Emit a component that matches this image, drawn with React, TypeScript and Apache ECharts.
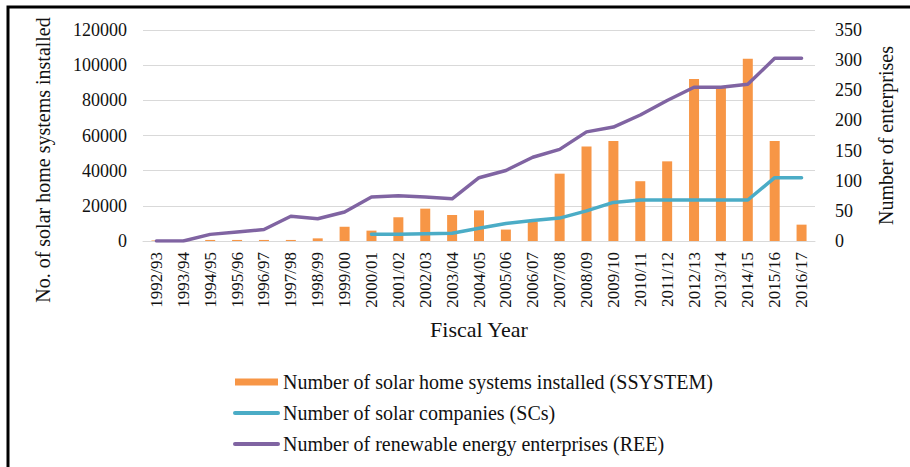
import React, { useEffect, useRef } from "react";
import * as echarts from "echarts";

const categories = [
  "1992/93", "1993/94", "1994/95", "1995/96", "1996/97", "1997/98", "1998/99",
  "1999/00", "2000/01", "2001/02", "2002/03", "2003/04", "2004/05", "2005/06",
  "2006/07", "2007/08", "2008/09", "2009/10", "2010/11", "2011/12", "2012/13",
  "2013/14", "2014/15", "2015/16", "2016/17",
];

const ssystem = [
  300, 0, 600, 600, 600, 600, 1500, 8100, 5900, 13500, 18400, 14800, 17400,
  6500, 11000, 38300, 53700, 56900, 34000, 45300, 92200, 87500, 103700, 56900, 9300,
];

const scs = [
  null, null, null, null, null, null, null, null, 11, 11, 12, 13, 21, 29, 34,
  38, 50, 64, 68, 68, 68, 68, 68, 105, 105,
];

const ree = [
  0, 0, 11, 15, 19, 41, 37, 48, 73, 75, 73, 70, 105, 117, 139, 152, 181, 189,
  209, 233, 255, 255, 260, 303, 303,
];

const leftTicks = { min: 0, max: 120000, interval: 20000 };
const rightTicks = { min: 0, max: 350, interval: 50 };

const names = {
  bar: "Number of solar home systems installed (SSYSTEM)",
  sc: "Number of solar companies (SCs)",
  ree: "Number of renewable energy enterprises (REE)",
};

const FONT = "Liberation Serif";
const TXT = "#111111";

export default function App() {
  const ref = useRef<HTMLDivElement>(null);
  useEffect(() => {
    if (!ref.current) return;
    const chart = echarts.init(ref.current, undefined, { renderer: "svg" });
    chart.setOption({
      animation: false,
      backgroundColor: "#ffffff",
      textStyle: { fontFamily: FONT, color: TXT },
      grid: { left: 143, right: 95, top: 30, bottom: 226, containLabel: false },
      legend: {
        orient: "vertical",
        left: 233,
        top: 372,
        padding: 0,
        itemWidth: 43,
        itemHeight: 7,
        itemGap: 11,
        textStyle: { fontFamily: FONT, fontSize: 20, color: TXT, lineHeight: 20 },
        data: [
          { name: names.bar, icon: "rect" },
          { name: names.sc, itemStyle: { opacity: 0 }, lineStyle: { width: 4, color: "#4BACC6" } },
          { name: names.ree, itemStyle: { opacity: 0 }, lineStyle: { width: 4, color: "#8064A2" } },
        ],
      },
      xAxis: {
        type: "category",
        data: categories,
        name: "Fiscal Year",
        nameLocation: "middle",
        nameGap: 77,
        nameTextStyle: { fontFamily: FONT, fontSize: 22, color: TXT },
        axisLine: { show: true, lineStyle: { color: "#d9d9d9", width: 1 } },
        axisTick: { show: false },
        axisLabel: { rotate: 90, margin: 11, fontFamily: FONT, fontSize: 17, color: TXT, interval: 0 },
      },
      yAxis: [
        {
          type: "value",
          ...leftTicks,
          axisLine: { show: false },
          axisTick: { show: false },
          splitLine: { show: true, lineStyle: { color: "#d9d9d9", width: 1 } },
          axisLabel: {
            margin: 16,
            fontFamily: FONT,
            fontSize: 18,
            color: TXT,
            formatter: (v: number) => String(v),
          },
        },
        {
          type: "value",
          position: "right",
          ...rightTicks,
          name: "Number of enterprises",
          nameLocation: "middle",
          nameRotate: 90,
          nameGap: 61,
          nameTextStyle: { fontFamily: FONT, fontSize: 20, color: TXT },
          axisLine: { show: false },
          axisTick: { show: false },
          splitLine: { show: false },
          axisLabel: {
            margin: 20,
            fontFamily: FONT,
            fontSize: 18,
            color: TXT,
            formatter: (v: number) => String(v),
          },
        },
      ],
      series: [
        {
          name: names.bar,
          type: "bar",
          yAxisIndex: 0,
          data: ssystem,
          barWidth: 10,
          itemStyle: { color: "#F79646" },
          z: 1,
        },
        {
          name: names.sc,
          type: "line",
          yAxisIndex: 1,
          data: scs,
          symbol: "none",
          connectNulls: false,
          lineStyle: { color: "#4BACC6", width: 3.5, cap: "round", join: "round" },
          itemStyle: { color: "#4BACC6" },
          z: 3,
        },
        {
          name: names.ree,
          type: "line",
          yAxisIndex: 1,
          data: ree,
          symbol: "none",
          lineStyle: { color: "#8064A2", width: 3.5, cap: "round", join: "round" },
          itemStyle: { color: "#8064A2" },
          z: 4,
        },
      ],
      graphic: [
        {
          type: "text",
          x: 43,
          y: 160,
          rotation: Math.PI / 2,
          style: {
            text: "No. of solar home systems installed",
            fontFamily: FONT,
            fontSize: 20,
            fill: TXT,
            align: "center",
            verticalAlign: "middle",
          },
        },
        {
          type: "polyline",
          shape: { points: [[8, 467], [8, 7], [910, 7]] },
          style: { stroke: "#000000", lineWidth: 3, fill: "none" },
        },
      ],
    });
    return () => chart.dispose();
  }, []);
  return (
    <div
      ref={ref}
      style={{ position: "fixed", left: 0, top: 0, width: 910, height: 467 }}
    />
  );
}
